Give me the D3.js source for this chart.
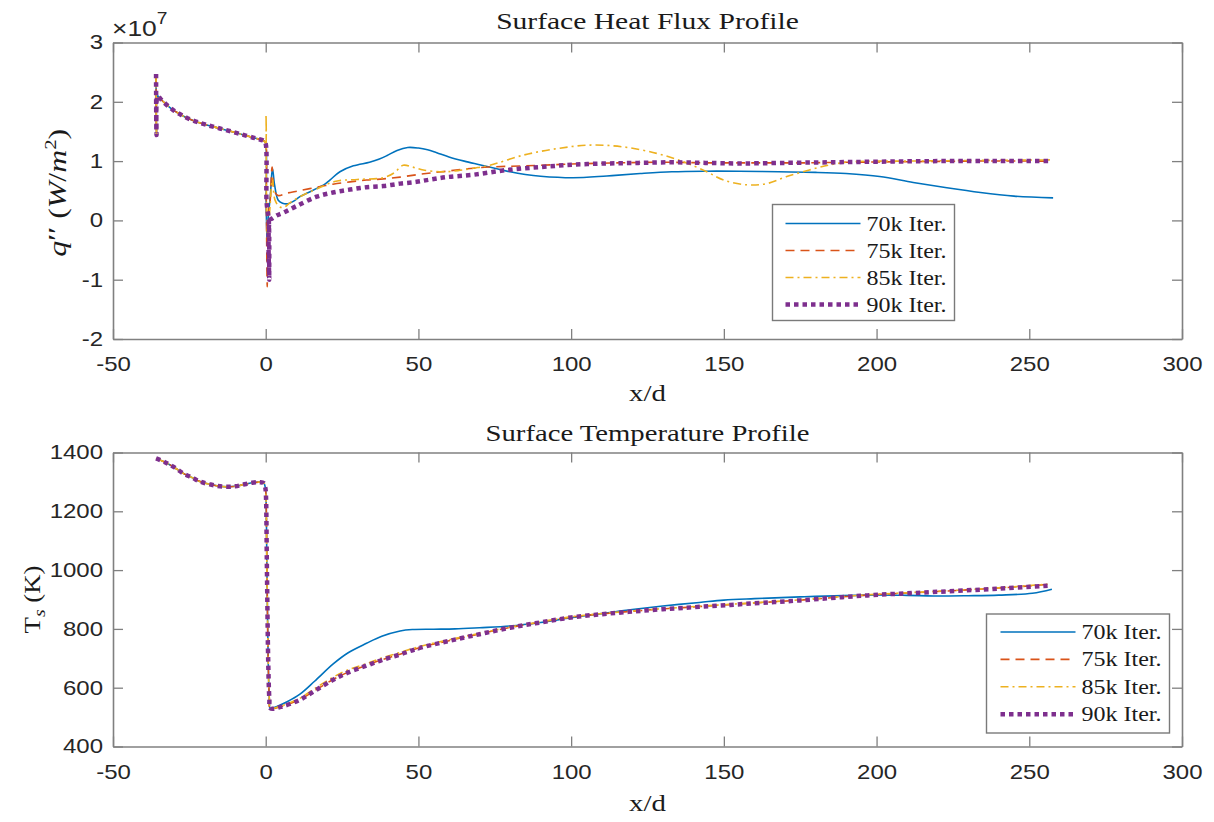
<!DOCTYPE html>
<html>
<head>
<meta charset="utf-8">
<script src="https://cdn.jsdelivr.net/npm/d3@7"></script>
<style>
  html, body { margin: 0; padding: 0; background: #ffffff; }
  svg { display: block; }
  .tick text { font-family: "Liberation Sans", Arial, sans-serif; font-size: 20px; fill: #262626; }
  .serif { font-family: "Liberation Serif", "Times New Roman", serif; fill: #1a1a1a; }
</style>
</head>
<body>
<svg id="fig" width="1214" height="822"></svg>
<script>
// ---------- data ----------
const xTicks = [-50, 0, 50, 100, 150, 200, 250, 300];
const fluxTicks = [-2, -1, 0, 1, 2, 3];          // in units of 1e7 W/m^2
const tempTicks = [400, 600, 800, 1000, 1200, 1400];
const seriesNames = ["70k Iter.", "75k Iter.", "85k Iter.", "90k Iter."];

// Heat flux (x/d, q'' / 1e7) upstream of the step, shared by all runs
const fluxUpstream = [[-35.9, 2.47], [-35.75, 1.44], [-35.4, 2.1], [-34.6, 2.06], [-33.5, 2.0],
  [-32, 1.93], [-30.3, 1.86], [-28, 1.79], [-25.9, 1.73], [-22.5, 1.66], [-19.3, 1.61],
  [-15, 1.55], [-10.6, 1.49], [-6.5, 1.43], [-2.95, 1.38], [-0.6, 1.34], [-0.05, 1.30]];

const flux70k = [[0.15, 0.3], [0.5, -0.4], [0.9, 0.1], [1.5, 0.4], [2.2, 0.88], [2.9, 0.6],
  [4.1, 0.34], [5.5, 0.29], [7.2, 0.28], [9, 0.32], [11.2, 0.40], [14, 0.47], [16.7, 0.54],
  [19, 0.6], [21, 0.68], [24.3, 0.82], [28.7, 0.92], [34, 0.98], [37, 1.03], [39.6, 1.09],
  [43, 1.18], [46.5, 1.23], [50, 1.22], [53, 1.19], [56, 1.14], [60, 1.07], [65, 1.0],
  [70, 0.94], [75, 0.88], [80, 0.82], [85, 0.775], [90, 0.745], [100.6, 0.72], [111.7, 0.75],
  [122.6, 0.79], [133, 0.82], [144, 0.83], [155, 0.83], [168, 0.82], [180, 0.81], [190, 0.79],
  [201, 0.74], [212, 0.64], [223, 0.55], [234, 0.47], [245, 0.41], [257.8, 0.38]];

const flux75k = [[0.2, 0.3], [0.5, -1.12], [0.8, 0.1], [1.4, 0.3], [2.1, 0.9], [2.8, 0.5],
  [4, 0.42], [6.9, 0.46], [11, 0.5], [16.7, 0.56], [22, 0.61], [27.6, 0.65], [33, 0.68],
  [38.5, 0.7], [44, 0.73], [49.4, 0.77], [54, 0.8], [59.3, 0.83], [66, 0.87], [73, 0.9],
  [85, 0.92], [100, 0.95], [115, 0.97], [130, 0.98], [145, 0.97], [160, 0.97], [175, 0.97],
  [190, 0.98], [210, 0.99], [230, 1.0], [257, 1.0]];

const flux85k = [[0.1, 1.78], [0.3, 0.2], [0.7, -0.3], [1.3, 0.15], [2.2, 0.7], [3, 0.35],
  [4.5, 0.23], [6, 0.22], [8, 0.3], [12, 0.42], [16.7, 0.53], [23, 0.66], [30, 0.69],
  [38.5, 0.72], [42, 0.8], [45, 0.93], [48, 0.9], [51.6, 0.85], [58, 0.82], [63, 0.84],
  [68, 0.88], [73.4, 0.93], [84.3, 1.1], [95.3, 1.21], [106.2, 1.27], [117, 1.24], [128, 1.13],
  [136.7, 0.99], [144.4, 0.82], [150, 0.68], [157.5, 0.60], [164, 0.62], [170.6, 0.74],
  [178, 0.85], [185, 0.94], [192, 0.99], [210, 1.0], [230, 1.01], [257, 1.02]];

const flux90k = [[0.3, 0.3], [1.0, 0.0], [1.15, -1.0], [1.35, 0.0], [2, 0.03], [3.5, 0.08],
  [5.8, 0.13], [10, 0.24], [16.7, 0.40], [22, 0.47], [27.6, 0.52], [33, 0.56], [38.5, 0.58],
  [44, 0.62], [49.4, 0.65], [54, 0.69], [59.3, 0.73], [68, 0.77], [79, 0.85], [90, 0.9],
  [100.7, 0.94], [111.7, 0.96], [122, 0.97], [133, 0.98], [144, 0.97], [155, 0.96], [170, 0.97],
  [185, 0.98], [200, 0.99], [220, 1.0], [240, 1.0], [257, 1.0]];

// Surface temperature (x/d, K) upstream of the step and the drop at x/d = 0
const tempUpstream = [[-35.9, 1380], [-33, 1367], [-30, 1350], [-27, 1329], [-24, 1314],
  [-21.5, 1301], [-18, 1291], [-13.9, 1284], [-10, 1285], [-7.3, 1291], [-4.5, 1297],
  [-1.9, 1299], [-0.6, 1296], [-0.2, 1284], [0.0, 1270], [0.4, 1000], [0.8, 700],
  [1.2, 560], [1.5, 530]];

const temp70k = [[4, 538], [7, 552], [11.2, 578], [16, 622], [22.1, 681], [27, 719], [33, 751],
  [38, 775], [44, 793], [48, 798], [55, 799], [62, 800], [70, 804], [80, 810], [90, 822],
  [100, 838], [110, 852], [120, 866], [130, 878], [142, 890], [150, 898], [160, 903],
  [175, 909], [197, 915], [210, 914], [218.6, 912], [230, 913], [240, 915], [251, 921],
  [257.4, 935]];

const temp75k = [[5, 536], [11.2, 560], [16, 590], [22.1, 628], [27, 653], [33, 676], [38, 695],
  [44, 714], [50, 735], [60, 760], [70, 783], [80, 805], [90, 823], [100, 840], [110, 851],
  [120, 860], [130, 868], [142, 876], [160, 888], [175, 898], [197, 915], [218, 926],
  [240, 939], [256, 951]];

const temp85k = [[5, 538], [11.2, 564], [16, 597], [22.1, 636], [27, 661], [33, 682], [38, 701],
  [44, 720], [50, 739], [60, 763], [70, 785], [80, 806], [90, 824], [100, 841], [110, 852],
  [120, 861], [130, 869], [142, 877], [160, 889], [175, 899], [197, 916], [218, 927],
  [240, 940], [256, 952]];

const temp90k = [[5, 535], [11.2, 559], [16, 589], [22.1, 627], [27, 652], [33, 675], [38, 694],
  [44, 713], [50, 734], [60, 759], [70, 782], [80, 804], [90, 822], [100, 839], [110, 850],
  [120, 859], [130, 867], [142, 875], [160, 887], [175, 897], [197, 914], [218, 925],
  [240, 937], [256, 947]];

// ---------- styles ----------
const colors = ["#0072BD", "#D95319", "#EDB120", "#7E2F8E"];
const dashes = [null, "9,6", "8,4,2,4", "4.5,4"];
const widths = [1.6, 1.6, 1.6, 4.5];
const AXIS_GRAY = "#808080";
const SX = 1.2;   // horizontal glyph stretch used throughout the figure

const svg = d3.select("#fig");
const X0 = 113, X1 = 1182;
const plainNumber = d => String(d);

function addText(parent, x, y, opts) {
  const o = Object.assign({ anchor: "middle", size: 24, rotate: 0, sx: SX, sy: 1, cls: "serif", width: null }, opts);
  const t = parent.append("text")
    .attr("class", o.cls)
    .attr("text-anchor", o.anchor)
    .style("font-size", o.size + "px");
  o.build(t);
  let k = o.sx;
  if (o.width) k = o.width / t.node().getBBox().width;
  t.attr("transform", `translate(${x},${y}) rotate(${o.rotate}) scale(${k},${o.sy})`);
  return t;
}

function drawPanel(cfg) {
  const g = svg.append("g");
  const x = d3.scaleLinear().domain([-50, 300]).range([X0, X1]);
  const y = d3.scaleLinear().domain(cfg.yDomain).range([cfg.bottom, cfg.top]);

  const clipId = "clip-" + cfg.id;
  g.append("clipPath").attr("id", clipId).append("rect")
    .attr("x", X0).attr("y", cfg.top).attr("width", X1 - X0).attr("height", cfg.bottom - cfg.top);

  // axes with inward ticks on all four sides
  const axB = g.append("g").attr("transform", `translate(0,${cfg.bottom})`)
    .call(d3.axisBottom(x).tickValues(xTicks).tickFormat(plainNumber)
      .tickSizeInner(-10).tickSizeOuter(0).tickPadding(18));
  const axT = g.append("g").attr("transform", `translate(0,${cfg.top})`)
    .call(d3.axisTop(x).tickValues(xTicks).tickSizeInner(-10).tickSizeOuter(0).tickFormat(""));
  const axL = g.append("g").attr("transform", `translate(${X0},0)`)
    .call(d3.axisLeft(y).tickValues(cfg.yTicks).tickFormat(plainNumber)
      .tickSizeInner(-10).tickSizeOuter(0).tickPadding(10));
  const axR = g.append("g").attr("transform", `translate(${X1},0)`)
    .call(d3.axisRight(y).tickValues(cfg.yTicks).tickSizeInner(-10).tickSizeOuter(0).tickFormat(""));

  [axB, axT, axL, axR].forEach(a => {
    a.selectAll("path.domain").attr("stroke", AXIS_GRAY).attr("stroke-width", 1.6);
    a.selectAll(".tick line").attr("stroke", AXIS_GRAY).attr("stroke-width", 1.3);
    a.attr("font-family", null).attr("font-size", null);
  });
  axB.selectAll(".tick text").attr("transform", `scale(${SX},1)`);
  axL.selectAll(".tick text").each(function () {
    const t = d3.select(this);
    const xx = +t.attr("x");
    t.attr("x", 0).attr("transform", `translate(${xx},0) scale(${SX},1)`);
  });

  // curves
  const line = d3.line()
    .x(d => x(d[0])).y(d => y(d[1]))
    .curve(d3.curveCatmullRom.alpha(0.5));
  const lines = g.append("g").attr("clip-path", `url(#${clipId})`);
  cfg.series.forEach((s, i) => {
    lines.append("path")
      .datum(cfg.upstream.concat(s))
      .attr("d", line)
      .attr("fill", "none")
      .attr("stroke", colors[i])
      .attr("stroke-width", widths[i])
      .attr("stroke-dasharray", dashes[i])
      .attr("stroke-linejoin", "round");
  });

  // title and axis labels
  addText(g, (X0 + X1) / 2, cfg.titleY, { size: 24, width: cfg.titleW, build: t => t.text(cfg.title) });
  addText(g, (X0 + X1) / 2, cfg.xLabelY, { size: 24, build: t => t.text("x/d") });
  addText(g, cfg.yLabelX, (cfg.top + cfg.bottom) / 2 + cfg.yLabelShift, {
    size: cfg.yLabelSize, rotate: -90, sy: 1.0, width: cfg.yLabelW, build: cfg.yLabel
  });

  // legend
  const L = cfg.legend;
  const lg = g.append("g");
  lg.append("rect").attr("x", L.x).attr("y", L.y).attr("width", L.w).attr("height", L.h)
    .attr("fill", "#ffffff").attr("stroke", "#7a7a7a").attr("stroke-width", 1.4);
  seriesNames.forEach((name, i) => {
    const ry = L.y + L.row0 + i * L.rowStep;
    lg.append("line").attr("x1", L.x + L.lineX0).attr("x2", L.x + L.lineX1)
      .attr("y1", ry).attr("y2", ry)
      .attr("stroke", colors[i]).attr("stroke-width", widths[i])
      .attr("stroke-dasharray", dashes[i]);
    addText(lg, L.x + L.textX, ry + 7, { anchor: "start", size: 20, build: t => t.text(name) });
  });
  return { x, y, g };
}

// ---------- upper panel: heat flux ----------
drawPanel({
  id: "flux", top: 42.5, bottom: 339, yDomain: [-2, 3], yTicks: fluxTicks,
  upstream: fluxUpstream, series: [flux70k, flux75k, flux85k, flux90k],
  title: "Surface Heat Flux Profile", titleY: 29, titleW: 303, xLabelY: 401,
  yLabelX: 66, yLabelW: 128, yLabelShift: 2, yLabelSize: 26,
  yLabel: t => {
    t.append("tspan").style("font-style", "italic").text("q");
    t.append("tspan").text("\u2032\u2032 (");
    t.append("tspan").style("font-style", "italic").text("W");
    t.append("tspan").text("/");
    t.append("tspan").style("font-style", "italic").text("m");
    t.append("tspan").attr("dy", -10).style("font-size", "17px").text("2");
    t.append("tspan").attr("dy", 10).text(")");
  },
  legend: { x: 772.5, y: 204.5, w: 182, h: 116, row0: 19, rowStep: 27, lineX0: 13, lineX1: 88, textX: 94 }
});

// exponent marker for the flux axis
const expo = svg.append("text")
  .attr("transform", `translate(112,36) scale(${SX},1)`)
  .style("font-family", "'Liberation Sans', Arial, sans-serif")
  .style("font-size", "22px").style("fill", "#262626");
expo.append("tspan").text("\u00d710");
expo.append("tspan").attr("dy", -12).style("font-size", "16px").text("7");

// ---------- lower panel: surface temperature ----------
drawPanel({
  id: "temp", top: 452.5, bottom: 746.5, yDomain: [400, 1400], yTicks: tempTicks,
  upstream: tempUpstream, series: [temp70k, temp75k, temp85k, temp90k],
  title: "Surface Temperature Profile", titleY: 441, titleW: 324, xLabelY: 811,
  yLabelX: 40, yLabelW: 68, yLabelShift: 0, yLabelSize: 23,
  yLabel: t => {
    t.append("tspan").text("T");
    t.append("tspan").attr("dy", 5).style("font-size", "17px").style("font-style", "italic").text("s");
    t.append("tspan").attr("dy", -5).text(" (K)");
  },
  legend: { x: 986.5, y: 614, w: 183, h: 119, row0: 18, rowStep: 27.4, lineX0: 14, lineX1: 89, textX: 95 }
});
</script>
</body>
</html>
